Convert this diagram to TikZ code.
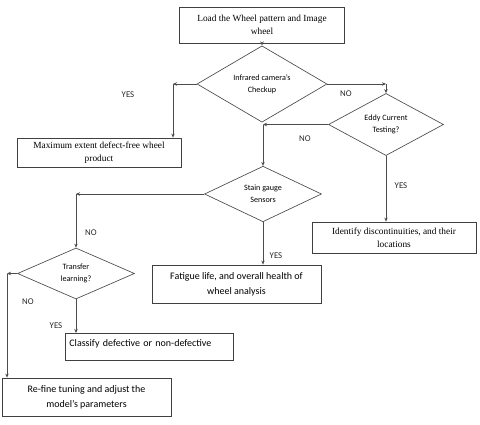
\documentclass[tikz,border=0pt]{standalone}
\usepackage{fontspec}
\setmainfont{Liberation Serif}
\newfontfamily\calib{Carlito}
\usetikzlibrary{shapes.geometric,arrows.meta}
\tikzset{
  box/.style={draw=black!75, line width=0.6pt, inner sep=1pt, align=center},
  serifbox/.style={box, font=\fontsize{7}{9.75}\selectfont},
  sansbox/.style={box, font=\calib\fontsize{7.5}{11.5}\selectfont},
  dia/.style={draw=black!70, line width=0.5pt, diamond, inner sep=0pt, align=center,
     font=\calib\fontsize{6.1}{9}\selectfont},
  conn/.style={draw=black!70, line width=0.6pt, -{Stealth[length=3pt,width=2.6pt]}},
  lab/.style={font=\calib\fontsize{6.6}{8}\selectfont, text=black!85, inner sep=0pt},
}
\begin{document}
\begin{tikzpicture}[x=0.75pt,y=-0.75pt]
\useasboundingbox (0,0) rectangle (480,425);
% boxes
\node[serifbox, minimum width=123.75pt, minimum height=27pt] (b1) at (262,25) {Load the Wheel pattern and Image\\wheel};
\node[serifbox, minimum width=123pt, minimum height=21.75pt] (b2) at (99,152.5) {Maximum extent defect-free wheel\\product};
\node[serifbox, minimum width=123pt, minimum height=23.25pt] (b3) at (394,237.5) {Identify discontinuities, and their\\locations};
\node[sansbox, minimum width=126.75pt, minimum height=28.5pt] (b4) at (236.5,284) {Fatigue life, and overall health of\\wheel analysis};
\node[sansbox, text width=120pt, align=left, minimum height=20.25pt, inner sep=3pt, anchor=north west] (b5) at (65,333) {Classify defective or non-defective\\[-5pt]\mbox{}};
\node[sansbox, minimum width=126.75pt, minimum height=28.5pt] (b6) at (86.5,397) {Re-fine tuning and adjust the\\model’s parameters};
% diamonds
\node[dia, minimum width=97.5pt, minimum height=39pt] (d1) at (262,84) {Infrared camera’s\\Checkup};
\node[dia, minimum width=86.25pt, minimum height=39.75pt] (d2) at (386,124.5) {Eddy Current\\Testing?};
\node[dia, minimum width=87.75pt, minimum height=39pt] (d3) at (263,194) {Stain gauge\\Sensors};
\node[dia, minimum width=87.75pt, minimum height=38.25pt] (d4) at (76,273.5) {Transfer\\learning?};
% corners
\coordinate (c1) at (173,84);
\coordinate (c2) at (386,84);
\coordinate (c3) at (263,124.5);
\coordinate (c4) at (76,194);
\coordinate (c5) at (7,273.5);
% connectors
\draw[conn] (b1.south) -- (d1.north);
\draw[conn] (d1.west) -- (c1);
\draw[conn] (c1) -- (c1 |- b2.north);
\draw[conn] (d1.east) -- (c2);
\draw[conn] (c2) -- (d2.north);
\draw[conn] (d2.west) -- (c3);
\draw[conn] (c3) -- (d3.north);
\draw[conn] (d2.south) -- (d2.south |- b3.north);
\draw[conn] (d3.west) -- (c4);
\draw[conn] (c4) -- (d4.north);
\draw[conn] (d3.south) -- (d3.south |- b4.north);
\draw[conn] (d4.south) -- (d4.south |- b5.north);
\draw[conn] (d4.west) -- (c5);
\draw[conn] (c5) -- (c5 |- b6.north);
% labels
\node[lab] (l1) at (128,95) {YES};
\node[lab] (l2) at (346,94) {NO};
\node[lab] (l3) at (305,139) {NO};
\node[lab] (l4) at (401,186) {YES};
\node[lab] (l5) at (91,233) {NO};
\node[lab] (l6) at (276,256) {YES};
\node[lab] (l7) at (56,326) {YES};
\node[lab] (l8) at (28,302) {NO};
\end{tikzpicture}
\end{document}
